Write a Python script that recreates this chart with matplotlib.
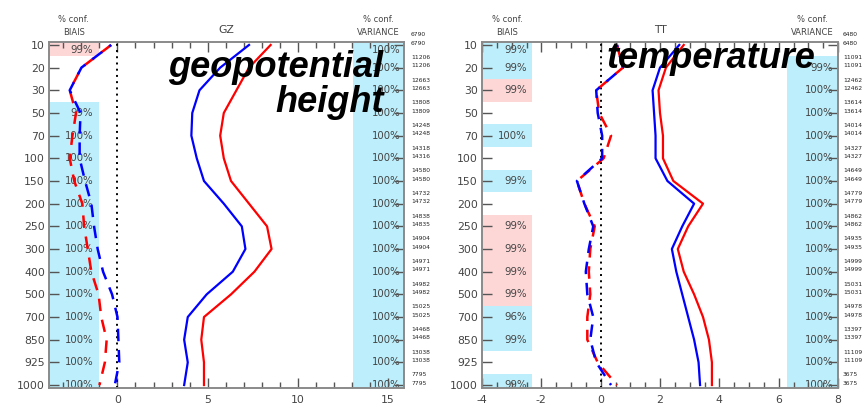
import matplotlib
matplotlib.use("Agg")
import matplotlib.pyplot as plt
import numpy as np

# --- data ---
levels = ['10', '20', '30', '50', '70', '100', '150', '200', '250', '300',
          '400', '500', '700', '850', '925', '1000']

# GZ (geopotential height)
gz_std_blue = [7.3, 5.7, 4.55, 4.15, 4.1, 4.4, 4.8, 5.9, 6.9, 7.1, 6.4, 4.95, 3.9, 3.7, 3.9, 3.7]
gz_std_red = [8.5, 7.3, 6.6, 5.9, 5.7, 5.9, 6.3, 7.3, 8.3, 8.55, 7.6, 6.3, 4.8, 4.65, 4.8, 4.8]
gz_bias_blue = [-0.35, -2.0, -2.65, -2.05, -2.1, -2.1, -1.8, -1.45, -1.3, -1.1, -0.8, -0.3, 0.0, 0.05, 0.1, -0.15]
gz_bias_red = [-0.35, -2.0, -2.65, -2.3, -2.5, -2.65, -2.4, -1.95, -1.85, -1.65, -1.45, -1.05, -0.9, -0.6, -0.7, -1.0]
gz_bias_conf = ['99%', '', '', '99%', '100%', '100%', '100%', '100%', '100%', '100%',
                '100%', '100%', '100%', '100%', '100%', '100%']
gz_bias_sig = ['R', '', '', 'B', 'B', 'B', 'B', 'B', 'B', 'B', 'B', 'B', 'B', 'B', 'B', 'B']
gz_var_conf = ['100%'] * 16
gz_var_sig = ['B'] * 16
gz_counts_a = ['6790', '11206', '12663', '13808', '14248', '14318', '14580', '14732',
               '14838', '14904', '14971', '14982', '15025', '14468', '13038', '7795']
gz_counts_b = ['6790', '11206', '12663', '13809', '14248', '14316', '14580', '14732',
               '14835', '14904', '14971', '14982', '15025', '14468', '13038', '7795']

# TT (temperature)
tt_std_blue = [2.65, 2.0, 1.75, 1.8, 1.85, 1.85, 2.25, 3.15, 2.75, 2.4, 2.55, 2.75, 2.95, 3.15, 3.3, 3.35]
tt_std_red = [2.8, 2.2, 1.95, 2.0, 2.1, 2.1, 2.45, 3.45, 2.95, 2.6, 2.8, 3.15, 3.45, 3.65, 3.75, 3.75]
tt_bias_blue = [0.55, 0.75, -0.15, -0.1, 0.05, 0.05, -0.8, -0.55, -0.25, -0.4, -0.5, -0.45, -0.25, -0.35, -0.15, 0.35]
tt_bias_red = [0.55, 0.75, -0.15, -0.05, 0.35, 0.1, -0.8, -0.55, -0.2, -0.35, -0.4, -0.35, -0.45, -0.45, -0.1, 0.55]
tt_bias_conf = ['99%', '99%', '99%', '', '100%', '', '99%', '', '99%', '99%',
                '99%', '99%', '96%', '99%', '', '99%']
tt_bias_sig = ['B', 'B', 'R', '', 'B', '', 'B', '', 'R', 'R', 'R', 'R', 'B', 'B', '', 'B']
tt_var_conf = ['', '99%', '100%', '100%', '100%', '100%', '100%', '100%', '100%', '100%',
               '100%', '100%', '100%', '100%', '100%', '100%']
tt_var_sig = [''] + ['B'] * 15
tt_counts_a = ['6480', '11091', '12462', '13614', '14014', '14327', '14649', '14779',
               '14862', '14935', '14999', '15031', '14978', '13397', '11109', '3675']
tt_counts_b = tt_counts_a

# --- style ---
BLUE_BOX = '#bdeefb'
RED_BOX = '#fdd6d6'
SPINE = '#8a8a8a'
TXT = '#444444'
box_col = {'B': BLUE_BOX, 'R': RED_BOX}

plt.rcParams['font.family'] = ['DejaVu Sans']

fig = plt.figure(figsize=(8.67, 4.11), dpi=100)
y = np.arange(len(levels))


def panel(rect, title, xlim, major, minor, sb, sr, bb, br,
          bconf, bsig, vconf, vsig, ca, cb, bias_txt_x, var_txt_x, cnt_x):
    ax = fig.add_axes(rect)
    ax.set_xlim(*xlim)
    ax.set_ylim(15.13, -0.13)

    # confidence boxes
    for i in range(len(levels)):
        if bsig[i]:
            ax.axhspan(i - 0.5, i + 0.5, xmin=0, xmax=0.14, color=box_col[bsig[i]], lw=0, zorder=0)
        if vsig[i]:
            ax.axhspan(i - 0.5, i + 0.5, xmin=0.857, xmax=1, color=box_col[vsig[i]], lw=0, zorder=0)

    tr = ax.get_yaxis_transform()
    for i in range(len(levels)):
        yy = i + 0.22 if i == 0 else i
        if bconf[i]:
            ax.text(bias_txt_x, yy, bconf[i], transform=tr, ha='right', va='center',
                    fontsize=7.3, color=TXT, zorder=1)
        if vconf[i]:
            ax.text(var_txt_x, yy, vconf[i], transform=tr, ha='right', va='center',
                    fontsize=7.3, color=TXT, zorder=1)
        ax.text(cnt_x, i - 0.45, ca[i], transform=tr, ha='left', va='center',
                fontsize=4.3, color='#222222', clip_on=False)
        ax.text(cnt_x, i - 0.08, cb[i], transform=tr, ha='left', va='center',
                fontsize=4.3, color='#222222', clip_on=False)

    ax.axvline(0, color='black', ls=(0, (1, 2.2)), lw=1.4, zorder=2)

    ax.plot(sb, y, color='#0000ff', lw=1.6, zorder=3)
    ax.plot(sr, y, color='#ff0000', lw=1.6, zorder=3)
    ax.plot(br, y, color='#ff0000', lw=1.8, ls=(0, (5, 3.5)), zorder=3)
    ax.plot(bb, y, color='#0000ff', lw=1.8, ls=(4, (5, 3.5)), zorder=3)

    ax.set_yticks(y)
    ax.set_yticklabels(levels)
    ax.set_xticks(major)
    ax.set_xticks(minor, minor=True)
    ax.set_xticklabels([str(v) for v in major])
    ax.tick_params(axis='y', which='major', direction='in', length=7, width=1,
                   right=True, left=True, labelsize=7.8, labelcolor=TXT, color='#555555', pad=3)
    ax.tick_params(axis='x', which='major', direction='in', length=7, width=1,
                   top=True, bottom=True, labelsize=7.8, labelcolor=TXT, color='#555555', pad=5)
    ax.tick_params(axis='x', which='minor', direction='in', length=4, width=1,
                   top=True, bottom=True, color='#555555')
    for s in ax.spines.values():
        s.set_color(SPINE)
        s.set_linewidth(1.4)

    ax.text(0.5, 1.035, title, transform=ax.transAxes, ha='center', va='center',
            fontsize=7.8, color=TXT)
    ax.text(0.07, 1.064, '% conf.', transform=ax.transAxes, ha='center', va='center',
            fontsize=6, color=TXT)
    ax.text(0.07, 1.027, 'BIAIS', transform=ax.transAxes, ha='center', va='center',
            fontsize=6, color=TXT)
    ax.text(0.928, 1.064, '% conf.', transform=ax.transAxes, ha='center', va='center',
            fontsize=6, color=TXT)
    ax.text(0.928, 1.027, 'VARIANCE', transform=ax.transAxes, ha='center', va='center',
            fontsize=6, color=TXT)
    return ax


ax1 = panel([49 / 867, 1 - 388 / 411, 355 / 867, 346 / 411], 'GZ', (-3.8, 15.9),
            [0, 5, 10, 15], np.arange(-3, 16, 1),
            gz_std_blue, gz_std_red, gz_bias_blue, gz_bias_red,
            gz_bias_conf, gz_bias_sig, gz_var_conf, gz_var_sig,
            gz_counts_a, gz_counts_b, 0.124, 0.989, 1.02)

ax2 = panel([482 / 867, 1 - 388 / 411, 356 / 867, 346 / 411], 'TT', (-4, 8),
            [-4, -2, 0, 2, 4, 6, 8], np.arange(-4, 8.01, 0.5),
            tt_std_blue, tt_std_red, tt_bias_blue, tt_bias_red,
            tt_bias_conf, tt_bias_sig, tt_var_conf, tt_var_sig,
            tt_counts_a, tt_counts_b, 0.126, 0.986, 1.014)

big = dict(fontsize=26, fontweight='bold', fontstyle='italic',
           family=['Liberation Sans', 'DejaVu Sans'], color='black', zorder=10)
fig.text(383 / 867, 1 - 77 / 411, 'geopotential', ha='right', va='baseline', **big)
fig.text(384 / 867, 1 - 112 / 411, 'height', ha='right', va='baseline', **big)
fig.text(815 / 867, 1 - 68 / 411, 'temperature', ha='right', va='baseline', **big)

fig.savefig('out.png', dpi=100)
